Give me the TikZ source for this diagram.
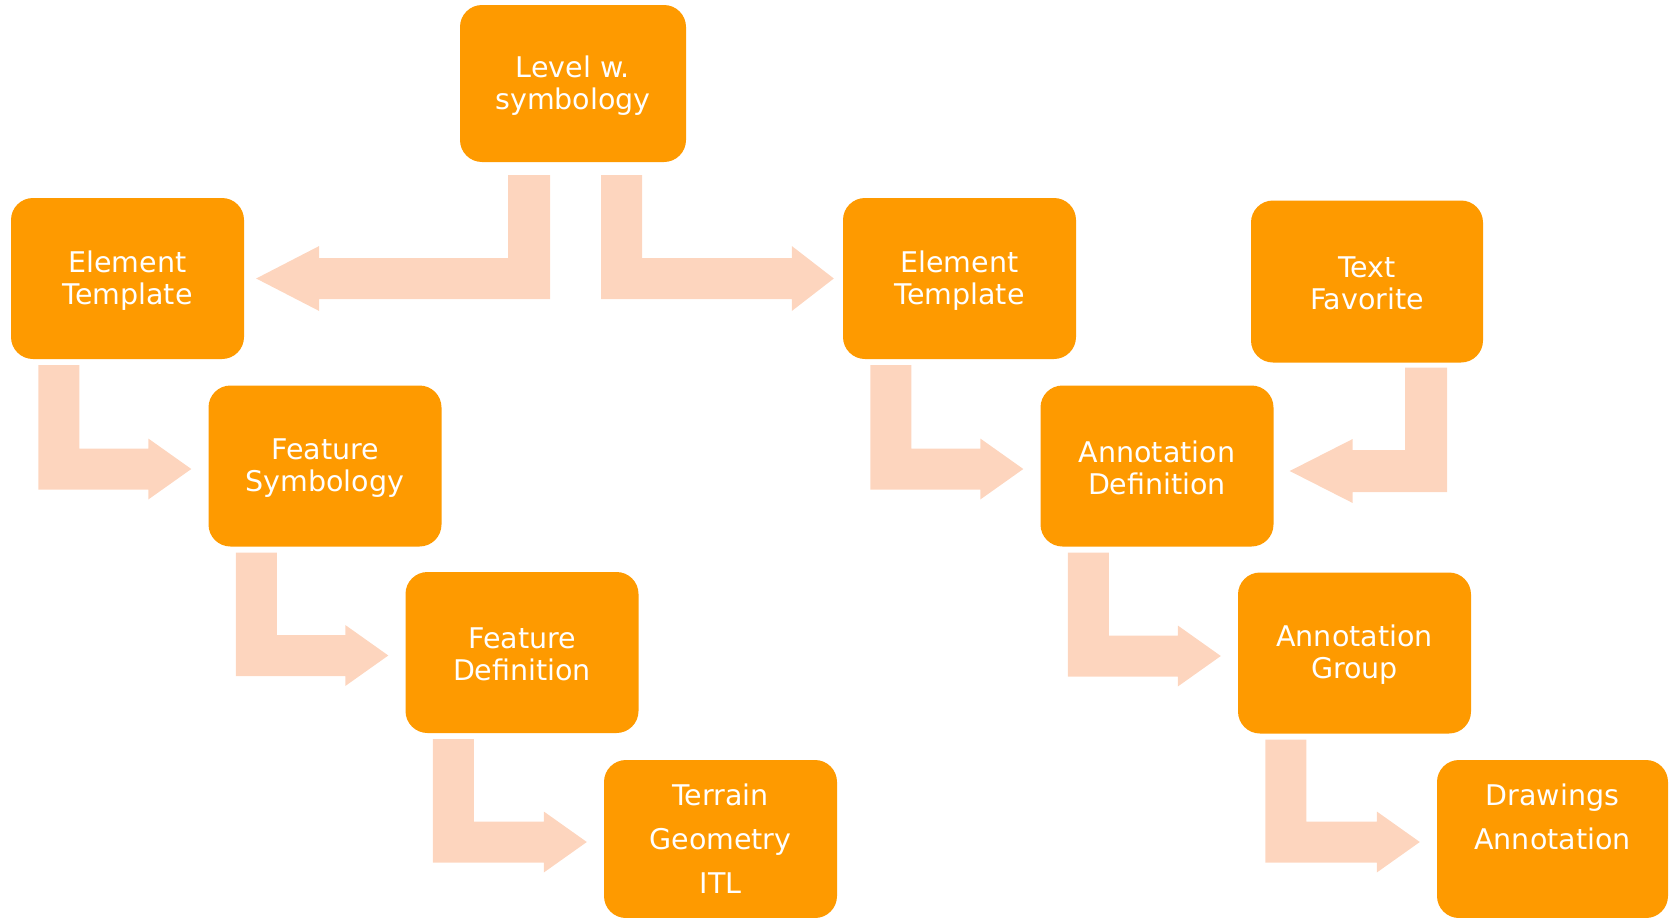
\documentclass[tikz,border=0pt]{standalone}
\usepackage{fontspec}
\setmainfont{DejaVu Sans}
\usetikzlibrary{calc}
\definecolor{boxorange}{RGB}{254,154,0}
\definecolor{peach}{RGB}{253,213,190}
\newcommand\tstrut{\rule{0pt}{25pt}}
\tikzset{
  box/.style={fill=boxorange, draw=none, rounded corners=22pt, minimum width=233pt,
    minimum height=161pt, inner sep=0pt, text=white, align=center,
    font=\fontsize{28.5}{32}\selectfont},
  boxwide/.style={box, font=\fontsize{28.5}{44}\selectfont},
  conn/.style={fill=peach, draw=none}
}
\newcommand\stepdownarrow[2]{%
  \fill[conn] let \p1=(#1.south west), \p2=(#2.west) in
    (\x1+27.5pt,\y1-6pt) -- (\x1+68.5pt,\y1-6pt) -- (\x1+68.5pt,\y2+17.5pt)
    -- (\x2-60pt,\y2+17.5pt) -- (\x2-60pt,\y2+27.5pt) -- (\x2-17pt,\y2-3pt)
    -- (\x2-60pt,\y2-33.5pt) -- (\x2-60pt,\y2-23.5pt) -- (\x1+27.5pt,\y2-23.5pt) -- cycle;}
\begin{document}
\begin{tikzpicture}[x=1pt,y=-1pt]
\useasboundingbox (0,0) rectangle (1671,918);
% boxes
\node[box, minimum width=226pt, minimum height=157pt] (lv) at (573,83.5) {\tstrut Level w.\\symbology};
\node[box] (etL) at (127.5,278.5) {\tstrut Element\\Template};
\node[box] (fs) at (325,466) {\tstrut Feature\\Symbology};
\node[box] (fd) at (522,652.5) {\tstrut Feature\\Definition};
\node[boxwide, minimum height=158pt] (tg) at (720.5,839) {Terrain\\Geometry\\ITL};
\node[box] (etR) at (959.5,278.5) {\tstrut Element\\Template};
\node[box, minimum width=232pt, minimum height=162pt] (tf) at (1367,281.5) {\tstrut Text\\Favorite};
\node[box] (ad) at (1157,466) {\tstrut Annotation\\Definition};
\node[box] (ag) at (1354.5,653) {\tstrut Annotation\\Group};
\node[boxwide, minimum width=231pt, minimum height=158pt] (da) at (1552.5,839) {Drawings\\Annotation\\\mbox{}};
% connectors
\fill[conn] let \p1=(lv.south), \p2=(etL.east) in
  (\x1-23pt,\y1-13pt) -- (\x1-65pt,\y1-13pt) -- (\x1-65pt,\y2+20.5pt)
  -- (\x2+75pt,\y2+20.5pt) -- (\x2+75pt,\y2+32.5pt) -- (\x2+12pt,\y2)
  -- (\x2+75pt,\y2-32.5pt) -- (\x2+75pt,\y2-20.5pt) -- (\x1-23pt,\y2-20.5pt) -- cycle;
\fill[conn] let \p1=(lv.south), \p2=(etR.west) in
  (\x1+28pt,\y1-13pt) -- (\x1+69pt,\y1-13pt) -- (\x1+69pt,\y2+20.5pt)
  -- (\x2-51pt,\y2+20.5pt) -- (\x2-51pt,\y2+32.5pt) -- (\x2-9pt,\y2)
  -- (\x2-51pt,\y2-32.5pt) -- (\x2-51pt,\y2-20.5pt) -- (\x1+28pt,\y2-20.5pt) -- cycle;
\fill[conn] let \p1=(tf.south), \p2=(ad.east) in
  (\x1+80pt,\y1-5pt) -- (\x1+38pt,\y1-5pt) -- (\x1+38pt,\y2+16pt)
  -- (\x2+79pt,\y2+16pt) -- (\x2+79pt,\y2+27pt) -- (\x2+16pt,\y2-5pt)
  -- (\x2+79pt,\y2-37pt) -- (\x2+79pt,\y2-26pt) -- (\x1+80pt,\y2-26pt) -- cycle;
\stepdownarrow{etL}{fs}
\stepdownarrow{fs}{fd}
\stepdownarrow{fd}{tg}
\stepdownarrow{etR}{ad}
\stepdownarrow{ad}{ag}
\stepdownarrow{ag}{da}
\end{tikzpicture}
\end{document}
